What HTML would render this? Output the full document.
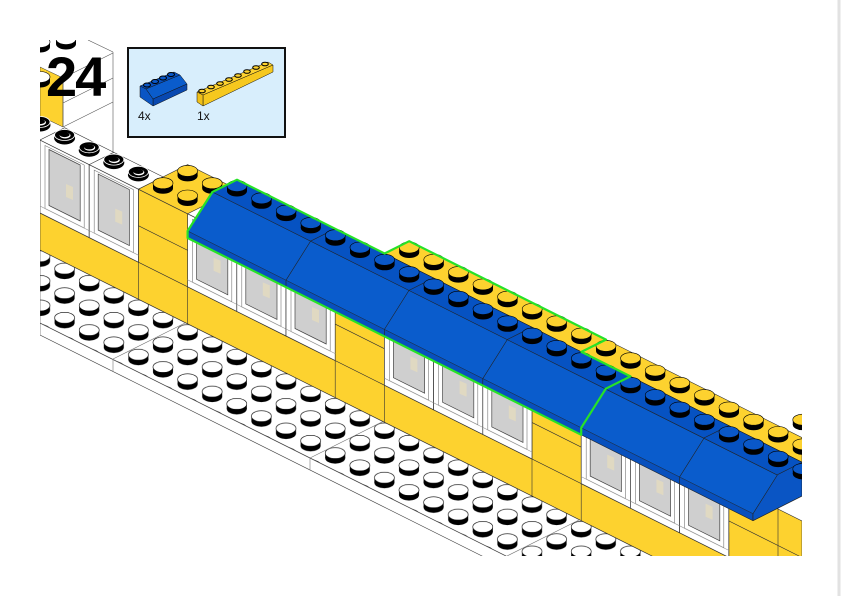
<!DOCTYPE html>
<html><head><meta charset="utf-8"><style>
html,body{margin:0;padding:0;background:#fff;width:842px;height:596px;overflow:hidden}
svg{display:block}
</style></head><body>
<svg width="842" height="596" viewBox="0 0 842 596" xmlns="http://www.w3.org/2000/svg">
<defs>
<clipPath id="cp"><rect x="40" y="40" width="762" height="516"/></clipPath>
<g id="sw"><ellipse cx="0" cy="-1" rx="10" ry="5.5" fill="#000"/><rect x="-10" y="-6" width="20" height="5" fill="#000"/><ellipse cx="0" cy="-6" rx="10" ry="5.5" fill="#fff" stroke="#000" stroke-width="0.6"/></g>
<g id="sb"><ellipse cx="0" cy="-1" rx="10" ry="5.5" fill="#000"/><rect x="-10" y="-6" width="20" height="5" fill="#000"/><ellipse cx="0" cy="-6" rx="10" ry="5.5" fill="#0a58c8" stroke="#000" stroke-width="0.6"/></g>
<g id="sy"><ellipse cx="0" cy="-1" rx="10" ry="5.5" fill="#000"/><rect x="-10" y="-6" width="20" height="5" fill="#000"/><ellipse cx="0" cy="-6" rx="10" ry="5.5" fill="#fdd22f" stroke="#000" stroke-width="0.6"/></g>
<g id="sr"><ellipse cx="0" cy="-2" rx="10.5" ry="6.5" fill="#000"/><ellipse cx="0" cy="-5" rx="10" ry="5.5" fill="#000" stroke="#fff" stroke-width="0.8"/><ellipse cx="0.5" cy="-4.5" rx="5.5" ry="3" fill="#fff"/><ellipse cx="0" cy="-5.3" rx="5" ry="2.4" fill="#000"/></g>
<pattern id="pp" patternUnits="userSpaceOnUse" x="15.4" y="250" width="49.2" height="24.6">
<use href="#sw" x="0" y="0"/><use href="#sw" x="49.2" y="0"/><use href="#sw" x="0" y="24.6"/><use href="#sw" x="49.2" y="24.6"/><use href="#sw" x="24.6" y="12.3"/><use href="#sw" x="24.6" y="-12.3"/><use href="#sw" x="24.6" y="36.9"/>
</pattern>
<g id="win">
<path d="M0,0 L49.2,24.6 L49.2,97.6 L0,73 Z" fill="#fff" stroke="#333" stroke-width="0.7"/>
<path d="M5,5.5 L44.2,25 L44.2,88 L5,68.5 Z" fill="#fff" stroke="#777" stroke-width="0.6"/>
<path d="M9,9.5 L40.2,25 L40.2,81 L9,65.5 Z" fill="#cfcfcf" stroke="#444" stroke-width="0.7"/>
<path d="M26,44 L33,47 L33,60 L26,57 Z" fill="#e0d9c2"/>
<line x1="0" y1="66" x2="49.2" y2="90.6" stroke="#999" stroke-width="0.6"/>
</g>
</defs>
<line x1="839" y1="0" x2="839" y2="596" stroke="#e2e2e2" stroke-width="3"/>
<g clip-path="url(#cp)">
<polygon points="40,67 63,78 63,127 40,116" fill="#fdd22f" stroke="#333" stroke-width="0.5"/>
<g stroke="#555" stroke-width="0.6" fill="none">
<line x1="113" y1="52" x2="113" y2="162"/>
<line x1="63" y1="78" x2="113" y2="53"/>
<line x1="63" y1="127" x2="113" y2="102"/>
<line x1="63" y1="103" x2="113" y2="78"/>
<line x1="63" y1="78" x2="63" y2="127"/>
<line x1="88" y1="40" x2="113" y2="52"/>
</g>
<use href="#sw" x="40" y="48"/><use href="#sw" x="66" y="45"/><use href="#sw" x="40" y="83"/>
<use href="#sr" x="40" y="127"/>
<polygon points="40,323 802,704 802,716 40,335" fill="#fff" stroke="#444" stroke-width="0.6"/>
<polygon points="40,250 802,631 802,704 40,323" fill="url(#pp)" stroke="#444" stroke-width="0.6"/>
<g stroke="#777" stroke-width="0.6">
<line x1="113" y1="359" x2="187" y2="322"/><line x1="113" y1="359" x2="113" y2="371"/>
<line x1="310" y1="458" x2="384" y2="421"/><line x1="310" y1="458" x2="310" y2="470"/>
<line x1="507" y1="556" x2="581" y2="519"/>
</g>
<polygon points="40,140 802,521 802,631 40,250" fill="#fdd22f" stroke="#333" stroke-width="0.6"/>
<g stroke="#333" stroke-width="0.6">
<line x1="40" y1="176.5" x2="802" y2="557.5"/>
<line x1="40" y1="213" x2="802" y2="594"/>
<line x1="138.4" y1="262.2" x2="138.4" y2="299.2"/><line x1="187.6" y1="286.8" x2="187.6" y2="323.8"/>
<line x1="335.2" y1="360.6" x2="335.2" y2="397.6"/><line x1="384.4" y1="385.2" x2="384.4" y2="422.2"/>
<line x1="532" y1="459" x2="532" y2="496"/><line x1="581.2" y1="483.6" x2="581.2" y2="520.6"/>
<line x1="728.8" y1="532.4" x2="728.8" y2="569.4"/><line x1="778" y1="497" x2="778" y2="594"/>
<line x1="138.4" y1="189.2" x2="138.4" y2="262.2"/><line x1="335.2" y1="287.6" x2="335.2" y2="360.6"/>
<line x1="532" y1="386" x2="532" y2="459"/><line x1="728.8" y1="484.4" x2="728.8" y2="557.4"/>
</g>
<use href="#win" x="40" y="140"/><use href="#win" x="89.2" y="164.6"/>
<use href="#win" x="187.6" y="213.8"/><use href="#win" x="236.8" y="238.4"/><use href="#win" x="286" y="263"/>
<use href="#win" x="384.4" y="312.2"/><use href="#win" x="433.6" y="336.8"/><use href="#win" x="482.8" y="361.4"/>
<use href="#win" x="581.2" y="410.6"/><use href="#win" x="630.4" y="435.2"/><use href="#win" x="679.6" y="459.8"/>
<polygon points="40,140 138.4,189.2 163,176.9 64.6,127.7" fill="#fff" stroke="#333" stroke-width="0.6"/>
<line x1="89.2" y1="164.6" x2="113.8" y2="152.3" stroke="#333" stroke-width="0.6"/>
<use href="#sr" x="64.6" y="140"/><use href="#sr" x="89.2" y="152.3"/><use href="#sr" x="113.8" y="164.6"/><use href="#sr" x="138.4" y="176.9"/>
<polygon points="138.4,189.2 187.6,213.8 236.8,189.2 187.6,164.6" fill="#fdd22f" stroke="#333" stroke-width="0.6"/>
<use href="#sy" x="187.6" y="176.9"/><use href="#sy" x="163" y="189.2"/><use href="#sy" x="212.2" y="189.2"/><use href="#sy" x="187.6" y="201.5"/>
<polygon points="384.6,253.5 409.2,241.2 802,437.6 802,462.2" fill="#fdd22f" stroke="#333" stroke-width="0.6"/>
<line x1="581.4" y1="351.9" x2="606" y2="339.6" stroke="#333" stroke-width="0.6"/>
<use href="#sy" x="409.2" y="253.5"/><use href="#sy" x="433.8" y="265.8"/><use href="#sy" x="458.4" y="278.1"/><use href="#sy" x="483" y="290.4"/>
<use href="#sy" x="507.6" y="302.7"/><use href="#sy" x="532.2" y="315"/><use href="#sy" x="556.8" y="327.3"/><use href="#sy" x="581.4" y="339.6"/>
<use href="#sy" x="606" y="351.9"/><use href="#sy" x="630.6" y="364.2"/><use href="#sy" x="655.2" y="376.5"/><use href="#sy" x="679.8" y="388.8"/>
<use href="#sy" x="704.4" y="401.1"/><use href="#sy" x="729" y="413.4"/><use href="#sy" x="753.6" y="425.7"/><use href="#sy" x="778.2" y="438"/>
<use href="#sy" x="802.8" y="425.7"/><use href="#sy" x="802.8" y="450.3"/>
<polygon points="187.6,238 187.6,231 212.4,192 237,179.7 802,462.2 802,496 753,520.7" fill="#0a5ccc" stroke="#222" stroke-width="0.6"/>
<polygon points="212.4,192 237,179.7 802,462.2 802,487.4" fill="#0652c2" stroke="#222" stroke-width="0.6"/>
<polygon points="187.6,231 753,513.7 753,520.7 187.6,238" fill="#0850bd" stroke="#222" stroke-width="0.5"/>
<polygon points="753,520.7 753,513.7 777.6,474.6 802,462.3 802,496" fill="#0a55c4" stroke="#222" stroke-width="0.6"/>
<g stroke="#222" stroke-width="0.6" fill="none">
<polyline points="286,287.2 286,280.2 310.6,241.1 335.2,228.8"/>
<polyline points="384.4,336.4 384.4,329.4 409,290.3 433.6,278"/>
<polyline points="482.8,385.6 482.8,378.6 507.4,339.5 532,327.2"/>
<polyline points="581.2,434.8 581.2,427.8 605.8,388.7 630.4,376.4"/>
<polyline points="679.6,484 679.6,477 704.2,437.9 728.8,425.6"/>
</g>
<use href="#sb" x="237" y="192"/><use href="#sb" x="261.6" y="204.3"/><use href="#sb" x="286.2" y="216.6"/><use href="#sb" x="310.8" y="228.9"/>
<use href="#sb" x="335.4" y="241.2"/><use href="#sb" x="360" y="253.5"/><use href="#sb" x="384.6" y="265.8"/><use href="#sb" x="409.2" y="278.1"/>
<use href="#sb" x="433.8" y="290.4"/><use href="#sb" x="458.4" y="302.7"/><use href="#sb" x="483" y="315"/><use href="#sb" x="507.6" y="327.3"/>
<use href="#sb" x="532.2" y="339.6"/><use href="#sb" x="556.8" y="351.9"/><use href="#sb" x="581.4" y="364.2"/><use href="#sb" x="606" y="376.5"/>
<use href="#sb" x="630.6" y="388.8"/><use href="#sb" x="655.2" y="401.1"/><use href="#sb" x="679.8" y="413.4"/><use href="#sb" x="704.4" y="425.7"/>
<use href="#sb" x="729" y="438"/><use href="#sb" x="753.6" y="450.3"/><use href="#sb" x="778.2" y="462.6"/><use href="#sb" x="802.8" y="474.9"/>
<path d="M187.6,238 L187.6,231 L212.4,192 L237,179.7 L384.6,253.5 L409.2,241.2 L606,339.6 L581.4,351.9 L630.4,376.4 L605.8,388.7 L581.2,427.8 L581.2,434.8 Z" fill="none" stroke="#27e227" stroke-width="2.2" stroke-linejoin="round"/>
</g>
<text x="46" y="96" font-family="Liberation Sans, sans-serif" font-weight="bold" font-size="56" letter-spacing="-2" fill="#000">24</text>
<rect x="128" y="48" width="157" height="89" fill="#d8eefc" stroke="#111" stroke-width="2"/>
<polygon points="140,86 174,72 180,75 146,89" fill="#0650c0" stroke="#111" stroke-width="0.5"/>
<polygon points="146,89 180,75 187,84 153,99" fill="#0a5ccc" stroke="#111" stroke-width="0.5"/>
<polygon points="153,99 187,84 187,90 153,106" fill="#0848b0" stroke="#111" stroke-width="0.5"/>
<polygon points="140,86 146,89 153,99 153,106 140,97" fill="#0a55c4" stroke="#111" stroke-width="0.5"/>
<g fill="#0a58c8" stroke="#000" stroke-width="1">
<ellipse cx="147" cy="85" rx="3.5" ry="2"/><ellipse cx="155" cy="81.5" rx="3.5" ry="2"/><ellipse cx="163" cy="78" rx="3.5" ry="2"/><ellipse cx="171" cy="74.5" rx="3.5" ry="2"/>
</g>
<polygon points="197,92 268,62 273,65 203,95" fill="#fdd22f" stroke="#111" stroke-width="0.5"/>
<polygon points="203,95 273,65 273,72 203,106" fill="#f6c81e" stroke="#111" stroke-width="0.5"/>
<polygon points="197,92 203,95 203,106 197,102" fill="#f0c01a" stroke="#111" stroke-width="0.5"/>
<g fill="#fdd22f" stroke="#000" stroke-width="1">
<ellipse cx="202" cy="91" rx="3.3" ry="1.8"/><ellipse cx="211" cy="87" rx="3.3" ry="1.8"/><ellipse cx="220" cy="83.5" rx="3.3" ry="1.8"/><ellipse cx="229" cy="79.5" rx="3.3" ry="1.8"/>
<ellipse cx="238" cy="75.5" rx="3.3" ry="1.8"/><ellipse cx="247" cy="71.5" rx="3.3" ry="1.8"/><ellipse cx="256" cy="67.5" rx="3.3" ry="1.8"/><ellipse cx="265" cy="64" rx="3.3" ry="1.8"/>
</g>
<text x="138" y="120" font-family="Liberation Sans, sans-serif" font-size="12" fill="#111">4x</text>
<text x="197" y="120" font-family="Liberation Sans, sans-serif" font-size="12" fill="#111">1x</text>
</svg>
</body></html>
